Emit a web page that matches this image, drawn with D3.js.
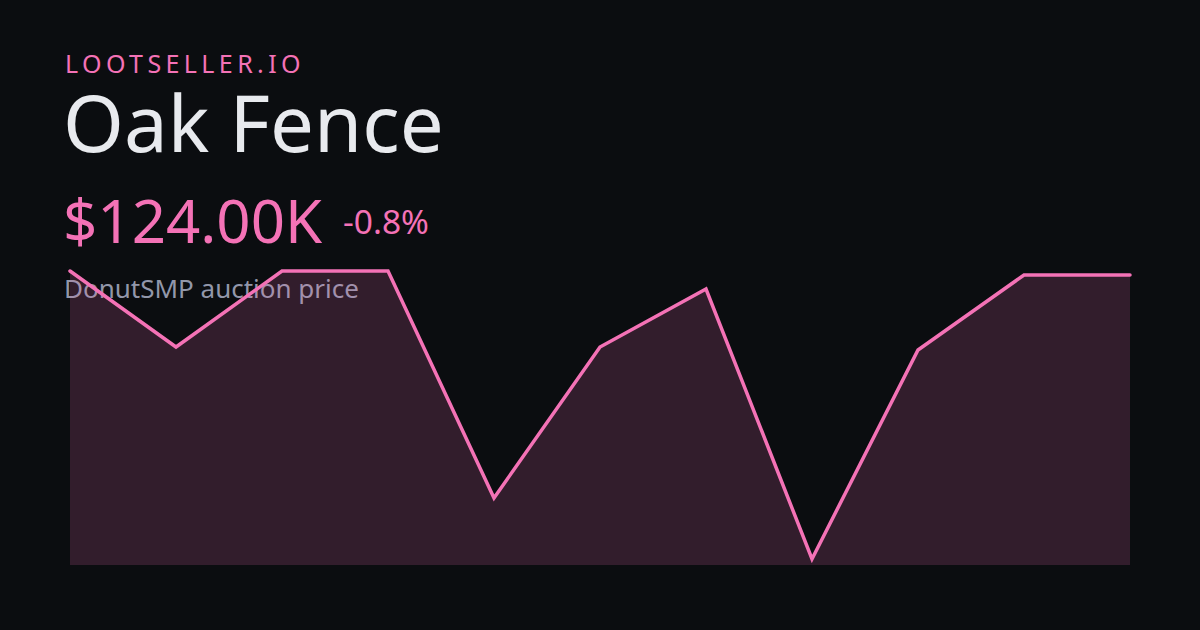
<!DOCTYPE html>
<html>
<head>
<meta charset="utf-8">
<script src="https://cdn.jsdelivr.net/npm/d3@7"></script>
<style>
  html, body { margin: 0; padding: 0; background: #0b0d10; }
  svg { display: block; }
</style>
</head>
<body>
<svg id="chart" width="1200" height="630"></svg>
<script>
// Data (prices in thousands of dollars)
const points = [0, 1, 2, 3, 4, 5, 6, 7, 8, 9, 10];
const prices = [125, 106, 125, 125, 68.25, 106, 120.5, 53, 105.25, 124, 124];
const brand = "LOOTSELLER.IO";
const itemName = "Oak Fence";
const priceLabel = "$124.00K";
const changeLabel = "-0.8%";
const subtitle = "DonutSMP auction price";

const W = 1200, H = 630;
const pink = "#f472b6";
const svg = d3.select("#chart");

svg.append("rect").attr("width", W).attr("height", H).attr("fill", "#0b0d10");

const x = d3.scaleLinear().domain([0, points.length - 1]).range([70, 1130]);
const y = d3.scaleLinear().domain([53, 125]).range([559, 271]);
const baseY = 565;

const font = "'Noto Sans', 'Open Sans', sans-serif";

// Text
svg.append("text").attr("x", 65).attr("y", 73)
  .attr("font-family", font).attr("font-size", 25).attr("letter-spacing", "4.4px")
  .attr("fill", pink).text(brand);

svg.append("text").attr("x", 63).attr("y", 152)
  .attr("font-family", font).attr("font-size", 78)
  .attr("fill", "#e8eaee").text(itemName);

svg.append("text").attr("x", 63).attr("y", 243)
  .attr("font-family", font).attr("font-size", 60)
  .attr("fill", pink).text(priceLabel);

svg.append("text").attr("x", 343).attr("y", 234)
  .attr("font-family", font).attr("font-size", 33.5)
  .attr("fill", pink).text(changeLabel);

svg.append("text").attr("x", 64).attr("y", 298)
  .attr("font-family", font).attr("font-size", 26)
  .attr("fill", "#9297aa").text(subtitle);

// Area
const area = d3.area()
  .x((d, i) => x(points[i]))
  .y0(baseY)
  .y1(d => y(d));

svg.append("path").datum(prices)
  .attr("d", area)
  .attr("fill", pink).attr("fill-opacity", 0.17);

// Line
const line = d3.line()
  .x((d, i) => x(points[i]))
  .y(d => y(d));

svg.append("path").datum(prices)
  .attr("d", line)
  .attr("fill", "none")
  .attr("stroke", pink)
  .attr("stroke-width", 3.5)
  .attr("stroke-linejoin", "miter")
  .attr("stroke-linecap", "round");
</script>
</body>
</html>
